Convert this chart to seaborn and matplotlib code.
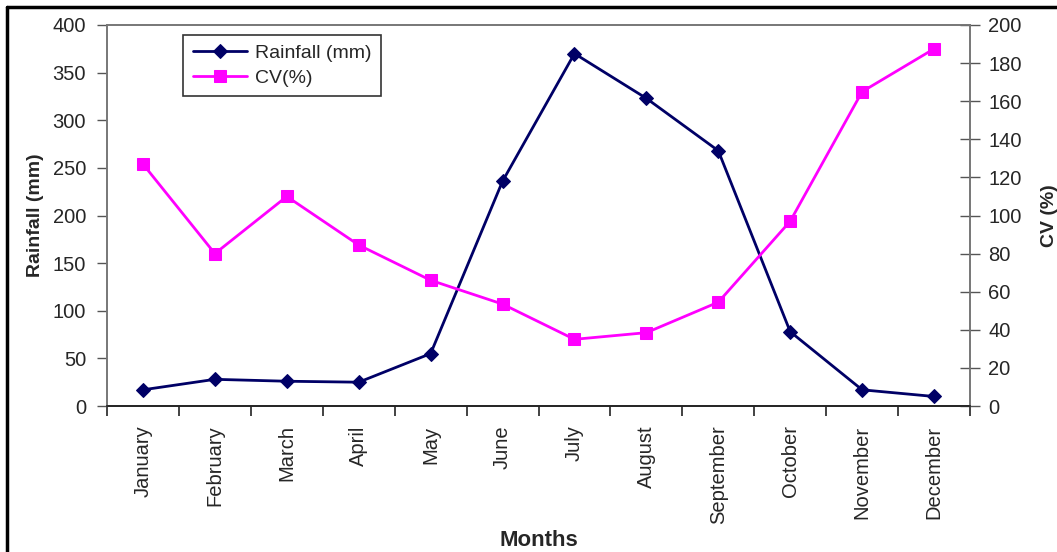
import matplotlib
matplotlib.use("Agg")
import matplotlib.pyplot as plt
from matplotlib.lines import Line2D
import seaborn as sns
import pandas as pd

months = ["January", "February", "March", "April", "May", "June", "July",
          "August", "September", "October", "November", "December"]
rainfall = [17, 28, 26, 25, 55, 236, 370, 323, 268, 78, 17, 10]
cv = [127, 80, 110, 84.5, 66, 53.5, 35, 38.5, 54.5, 97, 165, 187.5]

sns.set_style("white")
plt.rcParams["font.family"] = ["Liberation Sans", "DejaVu Sans"]

df = pd.DataFrame({"Month": months, "Rainfall": rainfall, "CV": cv})

W, H = 1057, 552
fig = plt.figure(figsize=(W / 100, H / 100), dpi=100)
ax = fig.add_axes([107 / W, 1 - 406 / H, (970 - 107) / W, (406 - 25) / H])
ax2 = ax.twinx()

navy = "#000066"
mag = "#FF00FF"

sns.lineplot(data=df, x="Month", y="Rainfall", ax=ax, color=navy, lw=2,
             marker="D", markersize=7, markeredgecolor=navy, label="Rainfall (mm)",
             legend=False, sort=False)
sns.lineplot(data=df, x="Month", y="CV", ax=ax2, color=mag, lw=2,
             marker="s", markersize=9, markeredgecolor=mag, label="CV(%)",
             legend=False, sort=False)

ax.set_xlim(-0.5, 11.5)
ax.set_ylim(0, 400)
ax2.set_ylim(0, 200)
ax.set_yticks(range(0, 401, 50))
ax2.set_yticks(range(0, 201, 20))

ax.set_xticks(range(len(months)))
ax.set_xticklabels(months, rotation=90, fontsize=14.5)
ax.set_xticks([i - 0.5 for i in range(len(months) + 1)], minor=True)
ax.tick_params(axis="x", which="major", length=0, pad=14)
ax.tick_params(axis="x", which="minor", length=7, width=1.2, direction="out",
               color="#222222", bottom=True)
ax.tick_params(axis="y", which="major", length=7, width=1, direction="out",
               color="#555555", labelsize=14.5, pad=8, left=True)
ax2.tick_params(axis="y", which="major", length=14, width=1, direction="inout",
                color="#555555", labelsize=14.5, pad=6, right=True)

for a in (ax, ax2):
    for s in a.spines.values():
        s.set_visible(True)
        s.set_color("#777777")
        s.set_linewidth(1.2)
ax.spines["bottom"].set_color("#222222")
ax2.spines["bottom"].set_color("#222222")

ax.set_xlabel("Months", fontsize=16, fontweight="bold", labelpad=4)
ax.set_ylabel("Rainfall (mm)", fontsize=14, fontweight="bold", labelpad=6)
ax2.set_ylabel("CV (%)", fontsize=14, fontweight="bold", labelpad=14)

h1, l1 = ax.get_legend_handles_labels()
h2, l2 = ax2.get_legend_handles_labels()
leg = ax2.legend(h1 + h2, l1 + l2, loc="upper left", bbox_to_anchor=(0.088, 0.974),
                 borderaxespad=0, fancybox=False, shadow=False, fontsize=14,
                 frameon=True, handlelength=2.8, borderpad=0.5, labelspacing=0.35,
                 handletextpad=0.4)
leg.get_frame().set_edgecolor("black")
leg.get_frame().set_linewidth(1.2)

fig.add_artist(Line2D([7 / W, 7 / W], [0, 1 - 7 / H], transform=fig.transFigure,
                      color="black", lw=2.5))
fig.add_artist(Line2D([7 / W, 1], [1 - 7 / H, 1 - 7 / H], transform=fig.transFigure,
                      color="black", lw=2.5))

fig.savefig("out.png", dpi=100)
